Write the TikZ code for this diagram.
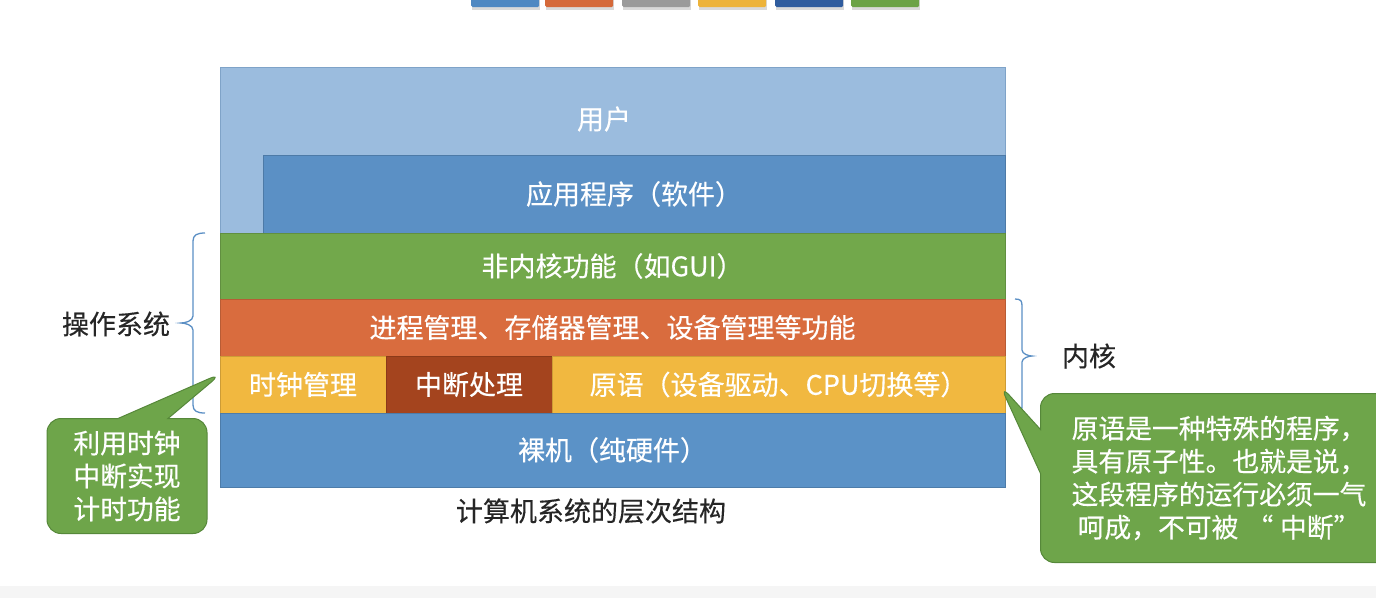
\documentclass[tikz,border=0pt]{standalone}
\usepackage{fontspec}
\setmainfont{Noto Sans CJK SC}[FakeBold=0.35]
\usetikzlibrary{shapes.callouts,calc}
\definecolor{cUser}{HTML}{9BBCDE}
\definecolor{cUserB}{HTML}{7FA3C8}
\definecolor{cApp}{HTML}{5B90C5}
\definecolor{cGreen}{HTML}{72A84B}
\definecolor{cOrange}{HTML}{D96C3E}
\definecolor{cYellow}{HTML}{F1B840}
\definecolor{cRed}{HTML}{A4441E}
\definecolor{cBare}{HTML}{5B92C7}
\definecolor{cCall}{HTML}{6EA54A}
\definecolor{cCallB}{HTML}{56883A}
\definecolor{cBrace}{HTML}{5B8FC4}
\definecolor{bBlue}{HTML}{4F88C2}
\definecolor{bOrange}{HTML}{D5693A}
\definecolor{bGray}{HTML}{9A9A9A}
\definecolor{bYellow}{HTML}{EDB33A}
\definecolor{bDark}{HTML}{2F5C9E}
\definecolor{bGreen}{HTML}{6BA246}
\begin{document}
\begin{tikzpicture}[x=1pt,y=-1pt,
  layer/.style={anchor=north west, inner sep=0pt, outer sep=0pt, text=white,
    font=\fontsize{27}{32}\selectfont, line width=0.8pt},
  plain/.style={inner sep=0pt, font=\fontsize{27}{32}\selectfont, text=black!85},
  callbox/.style={rectangle callout, fill=cCall, draw=cCallB, line width=1pt,
    rounded corners=14pt, text=white, align=center, inner sep=0pt,
    font=\fontsize{26.8}{33}\selectfont},
  topbar/.style={anchor=north west, inner sep=0pt, minimum width=68pt, minimum height=11pt,
    rounded corners=1.5pt},
  bracestyle/.style={draw=cBrace, line width=1.3pt}
]
\useasboundingbox (0,0) rectangle (1376,598);
\clip (0,0) rectangle (1376,598);
% bottom band
\fill[black!4] (0,586) rectangle (1376,598);
% top colour bars
\foreach \x/\c [count=\i] in {471/bBlue,545/bOrange,622/bGray,698/bYellow,775/bDark,851/bGreen}{
  \fill[black!15] (\x+1,-3) rectangle (\x+69,10);
  \node[topbar, fill=\c] (bar\i) at (\x,-4) {};
}
% layers
\node[layer, fill=cUser, draw=cUserB, minimum width=785pt, minimum height=166pt] (user) at (220,67) {};
\node[layer, anchor=center] (usertxt) at (604,119) {用户};
\node[layer, fill=cApp, draw=cApp!85!black, minimum width=742pt, minimum height=78pt] (app) at (263,155) {应用程序（软件）};
\node[layer, fill=cGreen, draw=cGreen!85!black, minimum width=785pt, minimum height=66pt] (gui) at (220,233) {非内核功能（如GUI）};
\node[layer, fill=cOrange, draw=cOrange!85!black, minimum width=785pt, minimum height=57pt] (proc) at (220,299) {进程管理、存储器管理、设备管理等功能};
\node[layer, fill=cYellow, draw=cYellow!85!black, minimum width=166pt, minimum height=57pt] (clock) at (220,356) {时钟管理};
\node[layer, fill=cRed, draw=cRed!85!black, minimum width=166pt, minimum height=57pt] (intr) at (386,356) {中断处理};
\node[layer, fill=cYellow, draw=cYellow!85!black, minimum width=453pt, minimum height=57pt] (prim) at (552,356) {原语（设备驱动、CPU切换等）};
\node[layer, fill=cBare, draw=cBare!85!black, minimum width=785pt, minimum height=74pt] (bare) at (220,413) {裸机（纯硬件）};
% caption
\node[plain] (cap) at (591,511) {计算机系统的层次结构};
% left brace (operating system)
\coordinate (lbT) at ([xshift=-15pt]gui.north west);
\coordinate (lbB) at ([xshift=-15pt]bare.north west);
\coordinate (lbM) at ($(lbT)!0.5!(lbB)$);
\draw[bracestyle] (lbT) .. controls +(-8,0) and +(0,-6) .. ([shift={(-12,8)}]lbT)
  -- ([shift={(-12,-7)}]lbM) .. controls +(0,5) and +(4,0) .. ([shift={(-24,0)}]lbM)
  .. controls +(4,0) and +(0,-5) .. ([shift={(-12,7)}]lbM)
  -- ([shift={(-12,-8)}]lbB) .. controls +(0,6) and +(-8,0) .. (lbB);
\node[plain] (os) at (116,324) {操作系统};
% right brace (kernel)
\coordinate (rbT) at ([xshift=10pt]proc.north east);
\coordinate (rbB) at ([xshift=10pt]prim.south east);
\coordinate (rbM) at ($(rbT)!0.5!(rbB)$);
\draw[bracestyle] (rbT) .. controls +(6,0) and +(0,-5) .. ([shift={(7,7)}]rbT)
  -- ([shift={(7,-6)}]rbM) .. controls +(0,4) and +(-3,0) .. ([shift={(17,0)}]rbM)
  .. controls +(-3,0) and +(0,-4) .. ([shift={(7,6)}]rbM)
  -- ([shift={(7,-7)}]rbB) .. controls +(0,5) and +(6,0) .. (rbB);
\node[plain] (kernel) at (1089,356) {内核};
% callouts
\coordinate (pl) at (222,373);
\coordinate (pr) at (1000,385);
\node[callbox, minimum width=160pt, minimum height=115pt,
  callout absolute pointer={(pl)}, callout pointer width=50pt] (cl) at (127,476)
  {利用时钟\\中断实现\\计时功能};
\node[callbox, minimum width=357pt, minimum height=169pt,
  callout absolute pointer={(pr)}, callout pointer width=44pt] (cr) at (1219,478)
  {原语是一种特殊的程序，\\具有原子性。也就是说，\\这段程序的运行必须一气\\呵成，不可被\hspace{0.3em}“\hspace{0.25em}中断”\hspace{0.3em}};
\end{tikzpicture}
\end{document}
